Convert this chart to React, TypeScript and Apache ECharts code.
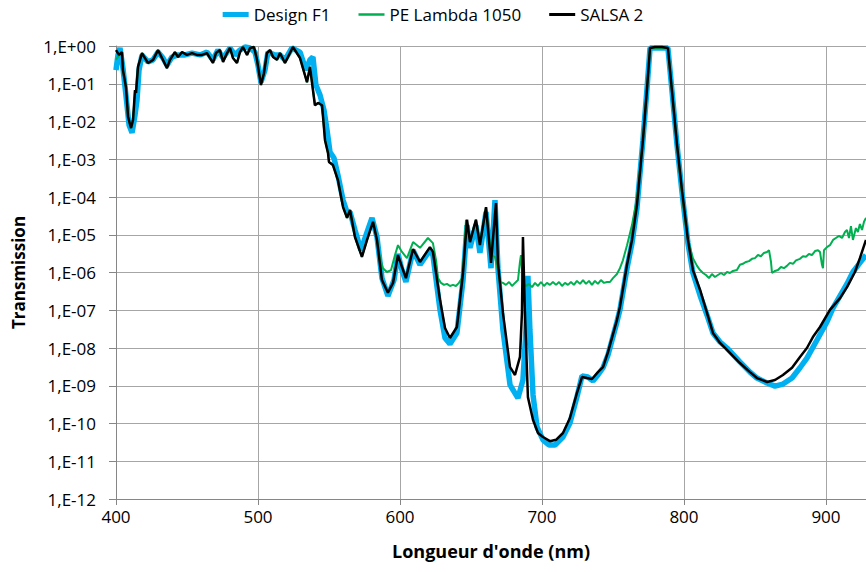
import React, { useEffect, useRef } from "react";
import * as echarts from "echarts";

// Wavelength (nm) / transmission pairs
const designF1: [number, number][] = [
  [400.0, 0.23], [401.4, 0.58], [402.8, 0.885], [404.9, 0.26], [407.0, 0.05], [409.2, 0.0081],
  [411.3, 0.005], [413.4, 0.0149], [414.8, 0.037], [416.2, 0.23], [418.3, 0.58], [422.5, 0.38],
  [426.1, 0.43], [429.6, 0.69], [433.1, 0.48], [435.9, 0.31], [439.4, 0.51], [443.7, 0.58],
  [448.6, 0.58], [453.5, 0.65], [459.2, 0.58], [464.1, 0.69], [468.3, 0.43], [471.8, 0.78],
  [475.4, 0.48], [480.3, 0.885], [483.8, 0.58], [487.3, 0.78], [490.8, 0.94], [494.4, 0.885],
  [497.9, 0.69], [500.0, 0.31], [502.1, 0.11], [504.9, 0.23], [507.0, 0.69], [512.0, 0.58],
  [515.5, 0.58], [519.0, 0.43], [523.9, 0.885], [529.6, 0.69], [533.8, 0.23], [536.6, 0.43],
  [538.7, 0.51], [540.8, 0.093], [543.7, 0.05], [546.5, 0.02], [548.6, 0.006], [550.7, 0.00156],
  [553.5, 0.00108], [556.3, 0.00038], [559.9, 8.3e-5], [562.7, 4.0e-5], [564.8, 4.0e-5],
  [568.3, 1.34e-5], [572.5, 3.9e-6], [576.8, 1.18e-5], [580.3, 2.8e-5], [583.8, 8.7e-6],
  [587.3, 7.1e-7], [591.5, 2.4e-7], [595.8, 6.3e-7], [598.6, 3.1e-6], [601.4, 1.16e-6],
  [604.2, 5.6e-7], [609.2, 3.9e-6], [614.1, 1.6e-6], [621.1, 3.9e-6], [623.2, 2.9e-6],
  [628.2, 1.02e-7], [631.7, 1.84e-8], [635.2, 1.28e-8], [640.1, 2.5e-8], [644.4, 6.3e-7],
  [647.2, 1.8e-5], [649.3, 4.5e-6], [653.5, 1.8e-5], [656.3, 3.3e-6], [660.6, 4.0e-5],
  [664.1, 1.3e-6], [666.9, 8.3e-5], [669.0, 1.3e-6], [672.5, 3.0e-8], [677.5, 1.05e-9],
  [683.1, 4.7e-10], [686.6, 1.42e-9], [688.7, 3.0e-8], [690.1, 8.1e-7], [691.5, 3.0e-8],
  [693.7, 5.7e-10], [696.5, 8.1e-11], [700.7, 3.7e-11], [704.9, 2.7e-11], [709.2, 2.7e-11],
  [714.8, 4.4e-11], [719.7, 1.03e-10], [724.6, 5.0e-10], [728.2, 1.81e-9], [732.4, 1.7e-9],
  [735.9, 1.34e-9], [739.4, 1.93e-9], [743.0, 3.0e-9], [746.5, 6.5e-9], [752.8, 4.9e-8],
  [754.9, 1.02e-7], [759.9, 1.3e-6], [763.4, 6.0e-6], [766.9, 5.1e-5], [771.1, 0.0032],
  [773.9, 0.068], [776.1, 0.885], [788.7, 0.885], [791.5, 0.068], [795.1, 0.0024],
  [798.6, 0.000136], [802.8, 6.0e-6], [806.3, 9.7e-7], [811.3, 2.5e-7], [816.2, 7.5e-8],
  [820.4, 2.5e-8], [825.4, 1.44e-8], [830.3, 1.0e-8], [839.4, 4.3e-9], [846.5, 2.3e-9],
  [851.4, 1.6e-9], [858.5, 1.18e-9], [864.1, 9.8e-10], [869.7, 1.11e-9], [876.1, 1.6e-9],
  [881.7, 3.0e-9], [886.6, 5.4e-9], [893.7, 1.63e-8], [900.7, 4.9e-8], [905.0, 1.15e-7],
  [909.9, 2.4e-7], [914.8, 5.0e-7], [919.0, 1.03e-6], [923.9, 1.8e-6], [928.2, 2.9e-6],
];

const peLambda1050: [number, number][] = [
  [400.0, 0.43], [402.1, 0.58], [404.2, 0.69], [404.9, 0.23], [407.0, 0.082], [408.5, 0.0132],
  [410.6, 0.0067], [412.0, 0.011], [413.4, 0.068], [414.1, 0.057], [415.5, 0.28], [418.3, 0.65],
  [420.4, 0.48], [422.5, 0.355], [426.1, 0.43], [429.6, 0.78], [432.4, 0.48], [435.9, 0.26],
  [438.0, 0.43], [441.5, 0.69], [443.7, 0.51], [446.5, 0.69], [450.0, 0.58], [453.5, 0.65],
  [457.0, 0.58], [460.6, 0.58], [464.1, 0.65], [466.2, 0.48], [468.3, 0.355], [470.4, 0.65],
  [473.2, 0.78], [475.4, 0.38], [478.2, 0.65], [480.3, 0.885], [482.4, 0.48], [485.2, 0.355],
  [487.3, 0.69], [489.4, 0.94], [492.3, 0.58], [494.4, 0.885], [497.2, 0.94], [499.3, 0.43],
  [502.1, 0.093], [504.2, 0.19], [506.3, 0.65], [508.5, 0.78], [510.6, 0.51], [513.4, 0.43],
  [515.5, 0.65], [519.0, 0.355], [524.6, 0.94], [529.6, 0.48], [534.5, 0.11], [536.6, 0.28],
  [540.1, 0.027], [542.3, 0.031], [545.1, 0.027], [547.2, 0.0032], [549.3, 0.00147],
  [550.0, 0.00085], [552.8, 0.0007], [556.3, 0.00028], [559.9, 5.4e-5], [562.7, 2.8e-5],
  [564.8, 4.5e-5], [568.3, 8.7e-6], [573.2, 2.6e-6], [576.8, 7.3e-6], [581.0, 2.2e-5],
  [583.8, 7.3e-6], [585.9, 2.4e-6], [588.0, 1.3e-6], [590.8, 1.03e-6], [593.7, 1.16e-6],
  [596.5, 2.9e-6], [598.6, 5.3e-6], [601.4, 3.5e-6], [604.9, 2.4e-6], [609.2, 6.4e-6],
  [614.1, 4.5e-6], [619.7, 8.2e-6], [623.2, 6.0e-6], [625.4, 2.1e-6], [626.8, 7.1e-7],
  [628.9, 5.3e-7], [631.0, 4.7e-7], [633.1, 5.0e-7], [635.2, 4.4e-7], [637.3, 4.7e-7],
  [639.4, 4.4e-7], [641.5, 5.3e-7], [643.7, 7.1e-7], [645.1, 2.9e-6], [646.5, 2.5e-5],
  [649.3, 7.3e-6], [653.5, 2.5e-5], [656.3, 6.0e-6], [660.6, 5.4e-5], [664.1, 2.9e-6],
  [666.9, 2.6e-6], [669.0, 1.16e-6], [670.4, 5.6e-7], [672.5, 5.3e-7], [674.6, 4.7e-7],
  [676.8, 5.6e-7], [678.9, 4.4e-7], [681.0, 5.3e-7], [683.1, 6.3e-7], [684.5, 1.9e-6],
  [685.2, 2.9e-6], [686.6, 5.3e-7], [688.7, 4.4e-7], [690.8, 5.0e-7], [693.0, 4.1e-7],
  [695.1, 5.3e-7], [697.2, 4.4e-7], [699.3, 5.6e-7], [701.4, 4.4e-7], [703.5, 5.3e-7],
  [705.6, 4.7e-7], [707.7, 5.6e-7], [709.9, 4.7e-7], [712.0, 5.6e-7], [714.1, 4.4e-7],
  [716.2, 5.3e-7], [718.3, 4.7e-7], [720.4, 5.6e-7], [722.5, 4.7e-7], [724.6, 6.0e-7],
  [726.8, 5.0e-7], [728.9, 6.3e-7], [731.0, 5.0e-7], [733.1, 6.0e-7], [735.2, 4.7e-7],
  [737.3, 6.0e-7], [739.4, 5.0e-7], [741.5, 6.3e-7], [743.7, 5.3e-7], [745.8, 5.6e-7],
  [747.9, 5.6e-7], [750.0, 7.1e-7], [752.8, 9.1e-7], [754.9, 1.3e-6], [757.0, 2.1e-6],
  [759.9, 5.3e-6], [763.4, 1.8e-5], [766.9, 9.4e-5], [771.1, 0.0032], [773.9, 0.068],
  [776.1, 0.885], [788.7, 0.885], [791.5, 0.068], [795.1, 0.0024], [798.6, 0.000113],
  [800.7, 2.5e-5], [802.1, 9.8e-6], [804.2, 4.5e-6], [806.3, 2.4e-6], [809.2, 1.5e-6],
  [811.3, 1.16e-6], [813.4, 9.7e-7], [815.5, 8.6e-7], [817.6, 7.1e-7], [819.7, 9.1e-7],
  [821.8, 7.6e-7], [823.9, 8.6e-7], [826.1, 9.7e-7], [828.2, 8.6e-7], [830.3, 1.03e-6],
  [832.4, 9.7e-7], [834.5, 1.1e-6], [837.3, 1.16e-6], [839.4, 1.6e-6], [841.5, 1.7e-6],
  [843.7, 1.9e-6], [845.8, 2.0e-6], [847.9, 2.3e-6], [850.0, 2.4e-6], [852.1, 2.9e-6],
  [854.2, 2.7e-6], [856.3, 3.3e-6], [858.5, 3.5e-6], [859.9, 3.9e-6], [861.3, 1.9e-6],
  [862.0, 9.7e-7], [864.1, 1.1e-6], [866.2, 1.16e-6], [868.3, 1.4e-6], [870.4, 1.3e-6],
  [872.5, 1.5e-6], [874.6, 1.8e-6], [876.8, 1.7e-6], [878.9, 2.1e-6], [881.7, 2.3e-6],
  [883.8, 2.7e-6], [885.9, 2.6e-6], [888.0, 3.1e-6], [890.1, 2.9e-6], [892.3, 3.7e-6],
  [894.4, 3.9e-6], [895.8, 3.5e-6], [897.2, 1.6e-6], [897.9, 1.3e-6], [898.6, 3.9e-6],
  [900.7, 4.7e-6], [902.8, 5.3e-6], [905.0, 7.3e-6], [907.0, 8.2e-6], [909.2, 9.3e-6],
  [911.3, 8.2e-6], [913.4, 1.18e-5], [914.8, 1.34e-5], [916.2, 8.2e-6], [917.6, 1.7e-5],
  [919.0, 7.3e-6], [921.1, 1.5e-5], [922.5, 1.18e-5], [923.9, 1.93e-5], [925.4, 1.34e-5],
  [926.8, 2.2e-5], [928.2, 2.8e-5],
];

const salsa2: [number, number][] = [
  [400.0, 0.78], [402.1, 0.58], [404.2, 0.69], [404.9, 0.23], [407.0, 0.082], [408.5, 0.0132],
  [410.6, 0.0067], [412.0, 0.011], [413.4, 0.068], [414.1, 0.057], [415.5, 0.28], [418.3, 0.65],
  [420.4, 0.48], [422.5, 0.355], [426.1, 0.43], [429.6, 0.78], [432.4, 0.48], [435.9, 0.26],
  [438.0, 0.43], [441.5, 0.69], [443.7, 0.51], [446.5, 0.69], [450.0, 0.58], [453.5, 0.65],
  [457.0, 0.58], [460.6, 0.58], [464.1, 0.65], [466.2, 0.48], [468.3, 0.355], [470.4, 0.65],
  [473.2, 0.78], [475.4, 0.38], [478.2, 0.65], [480.3, 0.885], [482.4, 0.48], [485.2, 0.355],
  [487.3, 0.69], [489.4, 0.94], [492.3, 0.58], [494.4, 0.885], [497.2, 0.94], [499.3, 0.43],
  [502.1, 0.093], [504.2, 0.19], [506.3, 0.65], [508.5, 0.78], [510.6, 0.51], [513.4, 0.43],
  [515.5, 0.65], [519.0, 0.355], [524.6, 0.94], [529.6, 0.48], [534.5, 0.11], [536.6, 0.28],
  [540.1, 0.027], [542.3, 0.031], [545.1, 0.027], [547.2, 0.0032], [549.3, 0.00147],
  [550.0, 0.00085], [552.8, 0.0007], [556.3, 0.00028], [559.9, 5.4e-5], [562.7, 2.8e-5],
  [564.8, 4.5e-5], [568.3, 8.7e-6], [573.2, 2.6e-6], [576.8, 7.3e-6], [581.0, 2.2e-5],
  [583.8, 7.3e-6], [587.3, 6.3e-7], [591.5, 2.9e-7], [595.1, 5.3e-7], [598.6, 2.9e-6],
  [601.4, 1.4e-6], [604.2, 7.1e-7], [609.2, 4.2e-6], [614.1, 1.9e-6], [621.1, 4.7e-6],
  [623.2, 3.5e-6], [628.2, 1.87e-7], [631.7, 3.4e-8], [635.2, 1.84e-8], [640.1, 3.6e-8],
  [644.4, 9.7e-7], [647.2, 2.5e-5], [649.3, 6.4e-6], [653.5, 2.5e-5], [656.3, 5.3e-6],
  [660.6, 5.4e-5], [664.1, 1.8e-6], [667.6, 6.9e-5], [669.0, 1.8e-6], [672.5, 8.5e-8],
  [677.5, 3.1e-9], [681.0, 1.93e-9], [684.5, 5.8e-9], [685.9, 8.5e-8], [686.6, 8.7e-6],
  [688.0, 8.5e-8], [690.1, 5.0e-10], [693.7, 1.24e-10], [697.2, 5.6e-11], [700.7, 4.4e-11],
  [705.6, 3.4e-11], [709.9, 3.7e-11], [714.8, 5.6e-11], [719.7, 1.4e-10], [724.6, 6.4e-10],
  [728.2, 1.7e-9], [731.7, 1.6e-9], [735.2, 1.51e-9], [739.4, 2.3e-9], [743.0, 3.1e-9],
  [746.5, 7.8e-9], [752.8, 5.5e-8], [754.9, 1.22e-7], [759.9, 1.6e-6], [763.4, 7.3e-6],
  [766.9, 6.1e-5], [771.1, 0.0032], [773.9, 0.068], [776.1, 0.885], [779.6, 0.94],
  [784.5, 0.94], [788.7, 0.885], [791.5, 0.068], [795.1, 0.0024], [798.6, 0.000153],
  [802.8, 7.3e-6], [806.3, 1.16e-6], [811.3, 3.5e-7], [816.2, 8.5e-8], [820.4, 2.5e-8],
  [825.4, 1.36e-8], [830.3, 8.9e-9], [839.4, 4.0e-9], [846.5, 2.3e-9], [851.4, 1.6e-9],
  [858.5, 1.26e-9], [864.1, 1.42e-9], [869.7, 1.93e-9], [876.1, 3.0e-9], [881.7, 5.8e-9],
  [886.6, 1.0e-8], [890.8, 1.95e-8], [895.8, 3.6e-8], [902.8, 1.02e-7], [909.9, 2.1e-7],
  [914.8, 4.1e-7], [920.4, 1.03e-6], [923.9, 2.4e-6], [928.2, 7.3e-6],
];

const seriesNames = ["Design F1", "PE Lambda 1050", "SALSA 2"];
const seriesColors = ["#00b0f0", "#00b050", "#000000"];
const yTickLabels = [
  "1,E-12", "1,E-11", "1,E-10", "1,E-09", "1,E-08", "1,E-07", "1,E-06",
  "1,E-05", "1,E-04", "1,E-03", "1,E-02", "1,E-01", "1,E+00",
];
const xLabel = "Longueur d'onde (nm)";
const yLabel = "Transmission";

const FONT = "'Open Sans', 'Noto Sans', sans-serif";

export default function App() {
  const ref = useRef<HTMLDivElement>(null);
  useEffect(() => {
    if (!ref.current) return;
    const chart = echarts.init(ref.current, null, { renderer: "svg" });
    const datasets = [designF1, peLambda1050, salsa2];
    const widths = [5.5, 2, 2.5];
    const legendIcons = [
      "path://M0,0h26v5h-26z",
      "path://M0,0h26v2.5h-26z",
      "path://M0,0h26v3h-26z",
    ];
    chart.setOption({
      animation: false,
      textStyle: { fontFamily: FONT },
      legend: {
        top: 1,
        left: "center",
        itemWidth: 26,
        itemHeight: 14,
        itemGap: 28,
        symbolKeepAspect: true,
        textStyle: { fontSize: 17, color: "#000", fontFamily: FONT },
        data: seriesNames.map((n, i) => ({
          name: n,
          icon: legendIcons[i],
          itemStyle: { color: seriesColors[i] },
        })),
      },
      grid: {
        left: 116,
        right: 0,
        top: 46,
        bottom: 73,
        containLabel: false,
        outerBoundsMode: "none",
      },
      xAxis: {
        type: "value",
        min: 400,
        max: 928.2,
        interval: 100,
        name: xLabel,
        nameLocation: "middle",
        nameGap: 43,
        nameTextStyle: { fontSize: 18, fontWeight: "bold", color: "#000", fontFamily: FONT },
        axisLine: { show: true, lineStyle: { color: "#868686", width: 1 } },
        axisTick: { show: true, length: 6, lineStyle: { color: "#868686" } },
        axisLabel: { color: "#000", fontSize: 17, margin: 9, showMaxLabel: false, fontFamily: FONT },
        splitLine: { show: true, lineStyle: { color: "#a6a6a6", width: 1 } },
      },
      yAxis: {
        type: "log",
        logBase: 10,
        min: 1e-12,
        max: 1,
        interval: 1,
        name: yLabel,
        nameLocation: "middle",
        nameGap: 89,
        nameTextStyle: { fontSize: 17, fontWeight: "bold", color: "#000", fontFamily: FONT },
        axisLine: { show: true, lineStyle: { color: "#868686", width: 1 } },
        axisTick: { show: true, length: 7, lineStyle: { color: "#868686" } },
        axisLabel: {
          color: "#000",
          fontSize: 17,
          margin: 20,
          fontFamily: FONT,
          formatter: (v: number) => {
            const e = Math.round(Math.log10(v));
            return yTickLabels[e + 12] ?? "";
          },
        },
        splitLine: { show: true, lineStyle: { color: "#a6a6a6", width: 1 } },
      },
      series: datasets.map((d, i) => ({
        name: seriesNames[i],
        type: "line",
        data: d,
        showSymbol: false,
        symbol: "none",
        clip: true,
        lineStyle: { color: seriesColors[i], width: widths[i] },
        itemStyle: { color: seriesColors[i] },
        z: i + 2,
      })),
    });
    return () => chart.dispose();
  }, []);
  return (
    <div
      ref={ref}
      style={{ position: "fixed", left: 0, top: 0, width: 866, height: 572, background: "#fff" }}
    />
  );
}
